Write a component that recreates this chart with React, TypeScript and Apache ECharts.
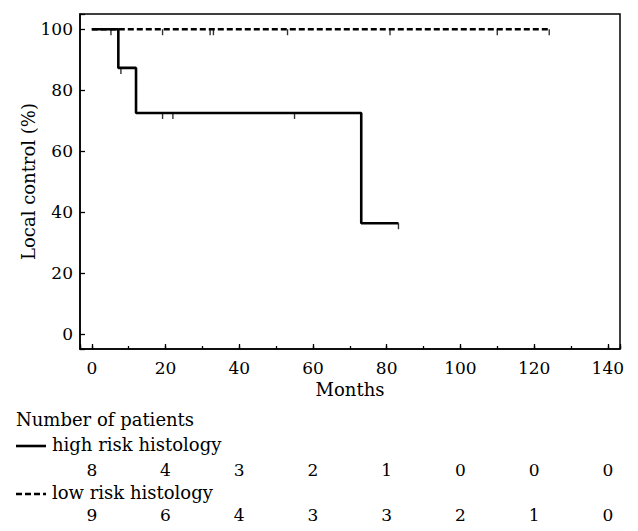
import React, { useEffect, useRef } from "react";
import * as echarts from "echarts";

// ---- data ----
const xTicks = [0, 20, 40, 60, 80, 100, 120, 140];
const yTicks = [0, 20, 40, 60, 80, 100];
const highRiskAtRisk = [8, 4, 3, 2, 1, 0, 0, 0];
const lowRiskAtRisk = [9, 6, 4, 3, 3, 2, 1, 0];
// Kaplan-Meier step points [months, % local control]
const highRiskCurve = [
  [0, 100],
  [7.2, 87.3],
  [12, 72.5],
  [73.1, 36.3],
  [83.2, 36.3],
];
const highRiskCensored = [
  [5.2, 100],
  [7.9, 87.3],
  [19.2, 72.5],
  [22, 72.5],
  [55, 72.5],
  [83.2, 36.3],
];
const lowRiskCurve = [
  [0, 100],
  [124.1, 100],
];
const lowRiskCensored = [
  [19.2, 100],
  [32.1, 100],
  [33, 100],
  [53.1, 100],
  [80.9, 100],
  [110, 100],
  [124.1, 100],
];
const seriesNames = ["high risk histology", "low risk histology"];
const tableTitle = "Number of patients";
const xName = "Months";
const yName = "Local control (%)";

const FONT = '"DejaVu Serif", "Liberation Serif", serif';
const X_MIN = -3.2;
const X_MAX = 143.3;

function tableAxis(offset: number, values: number[]) {
  return {
    type: "value",
    gridIndex: 0,
    position: "bottom",
    offset,
    min: X_MIN,
    max: X_MAX,
    minInterval: 20,
    maxInterval: 20,
    axisLine: { show: false, onZero: false },
    axisTick: { show: false },
    splitLine: { show: false },
    axisLabel: {
      color: "#000",
      fontFamily: FONT,
      fontSize: 17,
      margin: 8,
      formatter: (v: number) => {
        const i = xTicks.indexOf(Math.round(v * 1000) / 1000);
        return i >= 0 ? String(values[i]) : "";
      },
    },
  };
}

export default function App() {
  const ref = useRef<HTMLDivElement>(null);
  useEffect(() => {
    if (!ref.current) return;
    const chart = echarts.init(ref.current, null, { renderer: "svg" });
    const option = {
      animation: false,
      backgroundColor: "#fff",
      grid: {
        left: 80,
        right: 18,
        top: 14,
        bottom: 182,
        show: true,
        borderColor: "#000",
        borderWidth: 1.5,
        backgroundColor: "transparent",
      },
      xAxis: [
        {
          type: "value",
          position: "bottom",
          min: X_MIN,
          max: X_MAX,
          minInterval: 20,
          maxInterval: 20,
          axisLine: { show: true, onZero: false, lineStyle: { color: "#000", width: 1.5 } },
          axisTick: { show: true, inside: true, length: 5, lineStyle: { color: "#000", width: 1.3 } },
          splitLine: { show: false },
          axisLabel: {
            color: "#000",
            fontFamily: FONT,
            fontSize: 17,
            margin: 10,
            formatter: (v: number) => (xTicks.indexOf(Math.round(v * 1000) / 1000) >= 0 ? String(v) : ""),
          },
          name: xName,
          nameLocation: "middle",
          nameGap: 31,
          nameTextStyle: { color: "#000", fontFamily: FONT, fontSize: 18 },
        },
        {
          type: "value",
          position: "bottom",
          offset: 0,
          min: X_MIN,
          max: X_MAX,
          minInterval: 10,
          maxInterval: 10,
          axisLine: { show: false, onZero: false },
          axisTick: { show: true, inside: true, length: 3, lineStyle: { color: "#000", width: 1.3 } },
          splitLine: { show: false },
          axisLabel: { show: false },
        },
        tableAxis(104, highRiskAtRisk),
        tableAxis(149, lowRiskAtRisk),
      ],
      yAxis: {
        type: "value",
        min: -5,
        max: 105,
        minInterval: 20,
        maxInterval: 20,
        axisLine: { show: true, onZero: false, lineStyle: { color: "#000", width: 1.5 } },
        axisTick: { show: true, inside: true, length: 5, lineStyle: { color: "#000", width: 1.3 } },
        splitLine: { show: false },
        axisLabel: {
          color: "#000",
          fontFamily: FONT,
          fontSize: 17,
          margin: 7,
          formatter: (v: number) => (yTicks.indexOf(Math.round(v * 1000) / 1000) >= 0 ? String(v) : ""),
        },
        name: yName,
        nameLocation: "middle",
        nameGap: 43,
        nameMoveOverlap: false,
        nameTextStyle: { color: "#000", fontFamily: FONT, fontSize: 18 },
      },
      series: [
        {
          name: seriesNames[1],
          type: "line",
          xAxisIndex: 0,
          data: lowRiskCurve,
          step: "end",
          showSymbol: false,
          lineStyle: { color: "#000", width: 2.4, type: [6, 3] },
        },
        {
          name: seriesNames[0],
          type: "line",
          xAxisIndex: 0,
          data: highRiskCurve,
          step: "end",
          showSymbol: false,
          lineStyle: { color: "#000", width: 2.6, type: "solid" },
        },
        {
          type: "scatter",
          xAxisIndex: 0,
          data: highRiskCensored,
          symbol: "rect",
          symbolSize: [1.4, 6],
          symbolOffset: [0, 3],
          itemStyle: { color: "#000" },
        },
        {
          type: "scatter",
          xAxisIndex: 0,
          data: lowRiskCensored,
          symbol: "rect",
          symbolSize: [1.4, 6],
          symbolOffset: [0, 3],
          itemStyle: { color: "#000" },
        },
      ],
      graphic: [
        {
          type: "text",
          left: 16,
          top: 410,
          style: { text: tableTitle, fill: "#000", font: `18px ${FONT}` },
        },
        {
          type: "line",
          shape: { x1: 16, y1: 446, x2: 46, y2: 446 },
          style: { stroke: "#000", lineWidth: 2.6 },
        },
        {
          type: "text",
          left: 52,
          top: 435,
          style: { text: seriesNames[0], fill: "#000", font: `18px ${FONT}` },
        },
        {
          type: "line",
          shape: { x1: 16, y1: 494, x2: 46, y2: 494 },
          style: { stroke: "#000", lineWidth: 2.4, lineDash: [6, 3] },
        },
        {
          type: "text",
          left: 52,
          top: 483,
          style: { text: seriesNames[1], fill: "#000", font: `18px ${FONT}` },
        },
      ],
    };
    chart.setOption(option as any);
    return () => chart.dispose();
  }, []);
  return (
    <div
      ref={ref}
      style={{ position: "fixed", left: 0, top: 0, width: 638, height: 531, background: "#fff" }}
    />
  );
}
